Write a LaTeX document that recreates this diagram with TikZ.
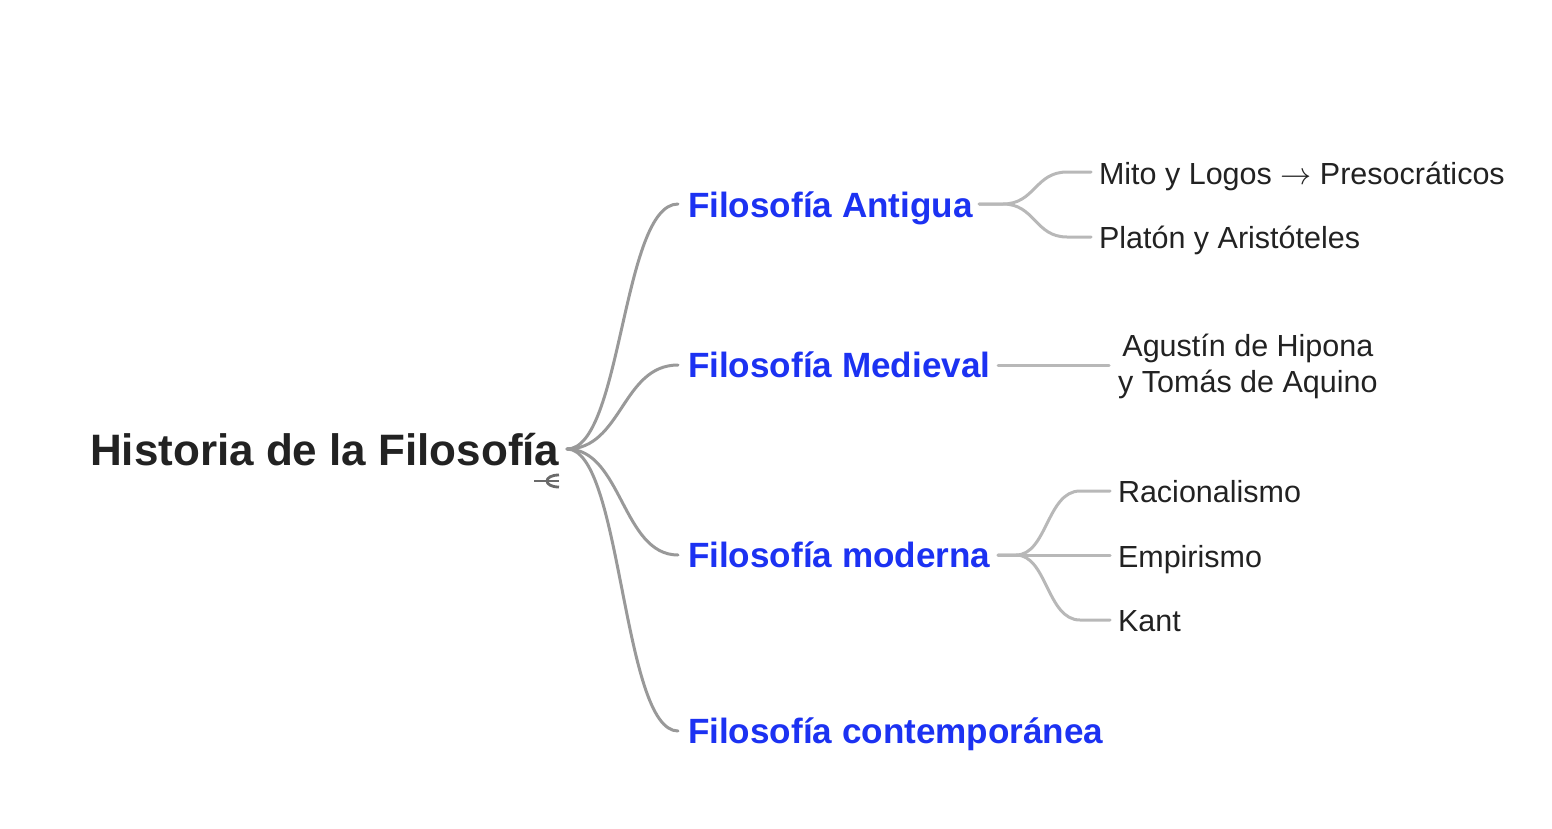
\documentclass[tikz,border=0pt]{standalone}
\usepackage{fontspec}
\usepackage{graphicx}
\setmainfont{Liberation Sans}
\begin{document}
\begin{tikzpicture}[x=1pt,y=-1pt,
  rootfont/.style={font=\fontsize{44}{50}\selectfont\bfseries, text=rootcol},
  branchfont/.style={font=\fontsize{35.1}{40}\selectfont\bfseries, text=bluecol},
  leaffont/.style={font=\fontsize{30.5}{36}\selectfont, text=rootcol},
  txt/.style={inner sep=0pt, outer sep=0pt, anchor=base west},
  mainline/.style={draw=gray1, line width=3pt, line cap=round},
  subline/.style={draw=gray2, line width=3pt, line cap=round}]
\definecolor{rootcol}{HTML}{222222}
\definecolor{bluecol}{HTML}{1C32F2}
\definecolor{gray1}{HTML}{999999}
\definecolor{gray2}{HTML}{B8B8B8}
\definecolor{icon}{HTML}{6A6A6A}
\useasboundingbox (0,0) rectangle (1552,828);

% nodes
\node[txt, rootfont] (root) at (90,465) {Historia de la Filosofía};
\node[txt, branchfont] (ant) at (688,217) {Filosofía Antigua};
\node[txt, branchfont] (med) at (688,377) {Filosofía Medieval};
\node[txt, branchfont] (mod) at (688,567) {Filosofía moderna};
\node[txt, branchfont] (con) at (688,743) {Filosofía contemporánea};

\node[txt, leaffont] (mito) at (1099,184) {Mito y Logos \scalebox{1.25}{$\rightarrow$} Presocráticos};
\node[txt, leaffont] (plat) at (1099,248) {Platón y Aristóteles};
\node[leaffont, inner sep=0pt, align=center, anchor=west] (agu) at (1118,366) {Agustín de Hipona\\y Tomás de Aquino};
\node[txt, leaffont] (rac) at (1118,502) {Racionalismo};
\node[txt, leaffont] (emp) at (1118,567) {Empirismo};
\node[txt, leaffont] (kant) at (1118,631) {Kant};

% connection points
\coordinate (r0) at (567,449);
\coordinate (antL) at (678,204);
\coordinate (medL) at (678,365);
\coordinate (modL) at (678,555);
\coordinate (conL) at (678,731);

\coordinate (antR) at (979,204);
\coordinate (mitoL) at (1091,172);
\coordinate (platL) at (1091,237);
\coordinate (medR) at (998,365);
\coordinate (aguL) at (1109,365);
\coordinate (modR) at (998,555);
\coordinate (racL) at (1110,491);
\coordinate (empL) at (1110,555);
\coordinate (kantL) at (1110,620);

% main connectors
\path[mainline] (r0) .. controls (622,449) and (622,204) .. (antL);
\path[mainline] (r0) .. controls (622,449) and (622,365) .. (medL);
\path[mainline] (r0) .. controls (622,449) and (622,555) .. (modL);
\path[mainline] (r0) .. controls (622,449) and (622,731) .. (conL);

% sub connectors
\path[subline] (antR) -- ++(24,0) .. controls (1035,204) and (1035,172) .. (1067,172) -- (mitoL);
\path[subline] (antR) -- ++(24,0) .. controls (1035,204) and (1035,237) .. (1067,237) -- (platL);
\path[subline] (medR) -- (aguL);
\path[subline] (modR) -- ++(18,0) .. controls (1047,555) and (1047,491) .. (1080,491) -- (racL);
\path[subline] (modR) -- (empL);
\path[subline] (modR) -- ++(18,0) .. controls (1047,555) and (1047,620) .. (1080,620) -- (kantL);

% collapse icon
\coordinate (ic) at (559,481);
\draw[icon, line width=2.8pt] (534,481) -- (ic);
\draw[icon, line width=2.8pt] (559,475) .. controls (543,475) and (543,487) .. (559,487);
\end{tikzpicture}
\end{document}
